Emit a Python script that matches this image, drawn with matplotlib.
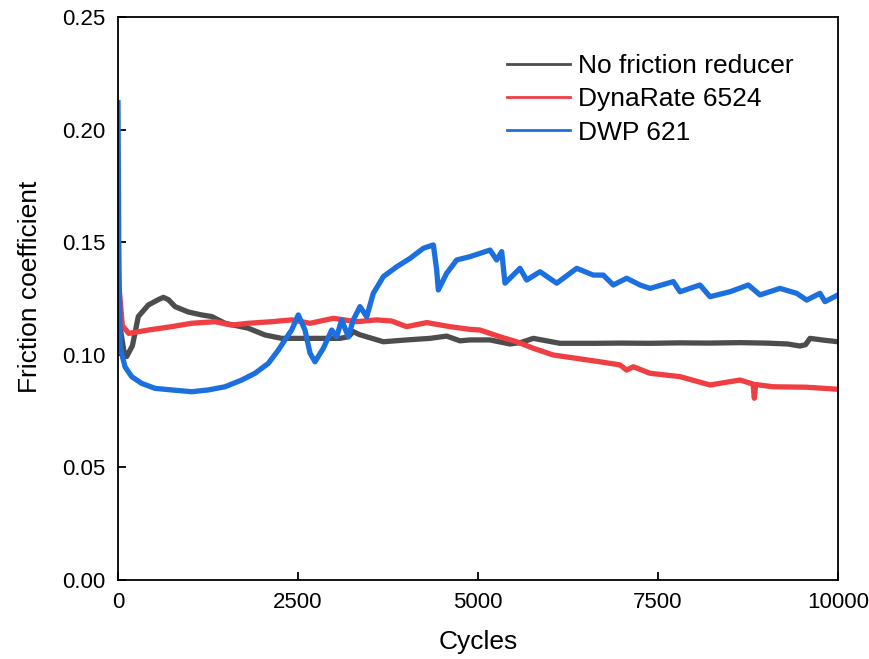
import matplotlib
matplotlib.use("Agg")
import matplotlib.pyplot as plt
from matplotlib.lines import Line2D

plt.rcParams['font.family'] = ['Liberation Sans', 'DejaVu Sans']

# series (cycles, friction coefficient)
none_x = [0, 30, 80, 120, 200, 282, 421, 560, 630, 700, 792, 977, 1162, 1301, 1486,
          1810, 2042, 2273, 2458, 2667, 3083, 3200, 3268, 3350, 3454, 3685, 4009, 4333,
          4565, 4750, 4889, 5167, 5444, 5600, 5768, 6139, 6601, 7000, 7389, 7800, 8200,
          8639, 9000, 9300, 9472, 9550, 9611, 9800, 10000]
none_y = [0.130, 0.112, 0.102, 0.0992, 0.104, 0.117, 0.1221, 0.1245, 0.1255, 0.1245,
          0.1214, 0.119, 0.1177, 0.117, 0.114, 0.1118, 0.1088, 0.1073, 0.1073, 0.1073,
          0.1073, 0.108, 0.1103, 0.109, 0.108, 0.1058, 0.1066, 0.1073, 0.1083, 0.1062,
          0.1066, 0.1066, 0.1048, 0.1055, 0.1073, 0.1051, 0.1051, 0.1052, 0.1051, 0.1053,
          0.1052, 0.1054, 0.1052, 0.1048, 0.1039, 0.1045, 0.1073, 0.1065, 0.1058]

dyna_x = [0, 28, 60, 150, 421, 745, 1023, 1347, 1579, 1810, 2134, 2412, 2667, 2991,
          3315, 3593, 3800, 4009, 4287, 4611, 4889, 5028, 5306, 5537, 5768, 6046, 6371,
          6694, 6972, 7065, 7157, 7389, 7806, 8222, 8639, 8820, 8838, 8856, 9102, 9565,
          10000]
dyna_y = [0.135, 0.125, 0.113, 0.1095, 0.111, 0.1125, 0.114, 0.1147, 0.1132, 0.114,
          0.1147, 0.1155, 0.114, 0.1162, 0.1147, 0.1155, 0.1150, 0.1125, 0.1143, 0.1125,
          0.1113, 0.111, 0.108, 0.1058, 0.1029, 0.0999, 0.0984, 0.0969, 0.0955, 0.0932,
          0.0947, 0.0918, 0.0903, 0.0866, 0.0888, 0.0870, 0.0807, 0.0868, 0.0858, 0.0856,
          0.0847]

dwp_x = [0, 10, 28, 97, 190, 329, 514, 745, 1023, 1254, 1486, 1718, 1903, 2088, 2227,
         2319, 2412, 2504, 2597, 2667, 2736, 2852, 2968, 3037, 3107, 3199, 3268, 3361,
         3454, 3546, 3685, 3871, 4056, 4241, 4380, 4426, 4449, 4565, 4704, 4889, 5167,
         5259, 5329, 5375, 5583, 5676, 5861, 6093, 6371, 6601, 6740, 6879, 7065, 7250,
         7389, 7713, 7806, 8083, 8222, 8500, 8754, 8917, 9194, 9426, 9565, 9750, 9819,
         10000]
dwp_y = [0.212, 0.15, 0.1036, 0.0947, 0.0903, 0.0873, 0.0851, 0.0844, 0.0836, 0.0844,
         0.0858, 0.0888, 0.0918, 0.0962, 0.1021, 0.1066, 0.111, 0.1177, 0.111, 0.1007,
         0.0969, 0.1029, 0.111, 0.108, 0.1155, 0.108, 0.1155, 0.1214, 0.1169, 0.1273,
         0.1347, 0.1391, 0.1428, 0.1473, 0.1488, 0.1377, 0.1288, 0.1362, 0.1421, 0.1436,
         0.1465, 0.1421, 0.1458, 0.1318, 0.1384, 0.1332, 0.1369, 0.1318, 0.1384, 0.1354,
         0.1354, 0.131, 0.134, 0.131, 0.1295, 0.1325, 0.128, 0.131, 0.1258, 0.128, 0.131,
         0.1266, 0.1295, 0.1273, 0.1243, 0.1273, 0.1236, 0.1266]

labels = ['No friction reducer', 'DynaRate 6524', 'DWP 621']
colors = ['#4d4d4d', '#ef3f42', '#1c6fde']
x_ticks = [0, 2500, 5000, 7500, 10000]
y_ticks = [0.00, 0.05, 0.10, 0.15, 0.20, 0.25]

fig = plt.figure(figsize=(8.7, 6.59), dpi=100)
ax = fig.add_axes([118/870, 1 - 580/659, 720/870, 563/659])

ax.plot(none_x, none_y, color=colors[0], lw=3.8, solid_joinstyle='round')
ax.plot(dyna_x, dyna_y, color=colors[1], lw=3.8, solid_joinstyle='round')
ax.plot(dwp_x, dwp_y, color=colors[2], lw=3.8, solid_joinstyle='round')

ax.set_xlim(0, 10000)
ax.set_ylim(0, 0.25)
ax.set_xticks(x_ticks)
ax.set_yticks(y_ticks)
ax.set_yticklabels(['%.2f' % v for v in y_ticks])
ax.tick_params(direction='in', length=6, width=1.3, labelsize=16, pad=9)
for s in ax.spines.values():
    s.set_linewidth(1.3)

ax.set_xlabel('Cycles', fontsize=19)
ax.set_ylabel('Friction coefficient', fontsize=19)
ax.xaxis.set_label_coords(0.5, -0.088)
ax.yaxis.set_label_coords(-0.106, 0.52)

handles = [Line2D([], [], color=c, lw=2) for c in colors]
ax.legend(handles, labels, loc='upper left', bbox_to_anchor=(0.54, 0.934),
          frameon=False, fontsize=19, handlelength=2.4, handletextpad=0.3,
          labelspacing=0.35, borderpad=0, borderaxespad=0)

fig.savefig('out.png', dpi=100)
